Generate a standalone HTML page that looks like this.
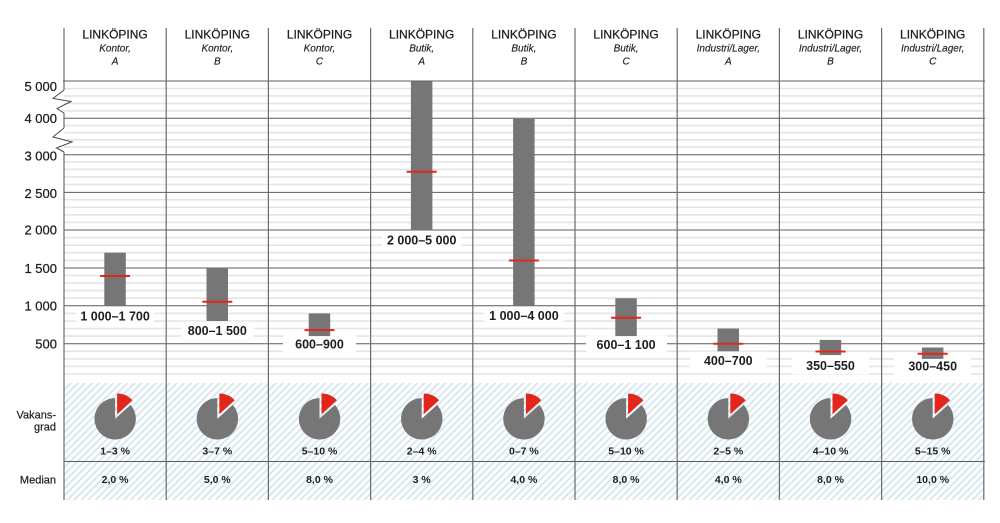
<!DOCTYPE html>
<html><head><meta charset="utf-8"><style>
html,body{margin:0;padding:0;background:#fff;}
svg{display:block;}
text{font-family:"Liberation Sans",Arial,sans-serif;fill:#1e1e1e;}
.h1{font-size:12px;stroke:#1e1e1e;stroke-width:0.25;}
.h2{font-size:10px;font-style:italic;stroke:#1e1e1e;stroke-width:0.15;}
.ya{font-size:13px;stroke:#1e1e1e;stroke-width:0.25;}
.bl{font-size:12.5px;font-weight:bold;}
.pl{font-size:10.5px;font-weight:bold;}
.rl{font-size:11px;stroke:#1e1e1e;stroke-width:0.2;}
</style></head><body>
<svg width="1000" height="523" viewBox="0 0 1000 523" xmlns="http://www.w3.org/2000/svg">
<defs>
<pattern id="h" width="5" height="5" patternUnits="userSpaceOnUse" patternTransform="rotate(45)">
<rect width="5" height="5" fill="#fff"/>
<line x1="1" y1="0" x2="1" y2="5" stroke="#d4e6ef" stroke-width="1.8"/>
</pattern>
</defs>
<rect width="1000" height="523" fill="#fff"/>
<rect x="64" y="383" width="920" height="117" fill="url(#h)"/>

<g stroke="#e4e4e4" stroke-width="1.6">
<line x1="64" x2="984" y1="88.5" y2="88.5"/><line x1="64" x2="984" y1="95.9" y2="95.9"/><line x1="64" x2="984" y1="103.4" y2="103.4"/><line x1="64" x2="984" y1="110.8" y2="110.8"/>
<line x1="64" x2="984" y1="125.5" y2="125.5"/><line x1="64" x2="984" y1="132.7" y2="132.7"/><line x1="64" x2="984" y1="139.8" y2="139.8"/><line x1="64" x2="984" y1="147" y2="147"/>
<line x1="64" x2="984" y1="161.8" y2="161.8"/><line x1="64" x2="984" y1="169.4" y2="169.4"/><line x1="64" x2="984" y1="176.9" y2="176.9"/><line x1="64" x2="984" y1="184.5" y2="184.5"/>
<line x1="64" x2="984" y1="199.7" y2="199.7"/><line x1="64" x2="984" y1="207.3" y2="207.3"/><line x1="64" x2="984" y1="214.8" y2="214.8"/><line x1="64" x2="984" y1="222.4" y2="222.4"/>
<line x1="64" x2="984" y1="237.6" y2="237.6"/><line x1="64" x2="984" y1="245.2" y2="245.2"/><line x1="64" x2="984" y1="252.7" y2="252.7"/><line x1="64" x2="984" y1="260.3" y2="260.3"/>
<line x1="64" x2="984" y1="275.5" y2="275.5"/><line x1="64" x2="984" y1="283.1" y2="283.1"/><line x1="64" x2="984" y1="290.6" y2="290.6"/><line x1="64" x2="984" y1="298.2" y2="298.2"/>
<line x1="64" x2="984" y1="313.4" y2="313.4"/><line x1="64" x2="984" y1="321" y2="321"/><line x1="64" x2="984" y1="328.5" y2="328.5"/><line x1="64" x2="984" y1="336.1" y2="336.1"/>
<line x1="64" x2="984" y1="351.3" y2="351.3"/><line x1="64" x2="984" y1="358.9" y2="358.9"/><line x1="64" x2="984" y1="366.4" y2="366.4"/><line x1="64" x2="984" y1="374" y2="374"/>
</g>
<g stroke="#5c5c5c" stroke-width="1">
<line x1="63" x2="985" y1="81" y2="81"/>
<line x1="64" x2="985" y1="118.3" y2="118.3"/>
<line x1="64" x2="985" y1="154.7" y2="154.7"/>
<line x1="64" x2="985" y1="192.4" y2="192.4"/>
<line x1="64" x2="985" y1="230" y2="230"/>
<line x1="64" x2="985" y1="268" y2="268"/>
<line x1="64" x2="985" y1="305.8" y2="305.8"/>
<line x1="64" x2="985" y1="343.7" y2="343.7"/>
<line x1="64" x2="985" y1="461.5" y2="461.5"/>
</g>
<g stroke="#6a6a6a" stroke-width="1.2">
<line x1="166.2" x2="166.2" y1="28" y2="500"/>
<line x1="268.4" x2="268.4" y1="28" y2="500"/>
<line x1="370.6" x2="370.6" y1="28" y2="500"/>
<line x1="472.8" x2="472.8" y1="28" y2="500"/>
<line x1="575" x2="575" y1="28" y2="500"/>
<line x1="677.2" x2="677.2" y1="28" y2="500"/>
<line x1="779.4" x2="779.4" y1="28" y2="500"/>
<line x1="881.6" x2="881.6" y1="28" y2="500"/>
<line x1="983.8" x2="983.8" y1="28" y2="500"/>
<line x1="64" x2="64" y1="28" y2="90"/>
<line x1="64" x2="64" y1="113" y2="128"/>
<line x1="64" x2="64" y1="152" y2="500"/>
</g>
<g fill="none" stroke="#4a4a4a" stroke-width="1">
<path d="M64,90 L53,98.5 L71,101.5 L57,108.5 L64,113"/>
<path d="M64,128 L53,137 L72,142 L56.5,148 L64,152"/>
</g>

<g text-anchor="middle">
<text class="h1" x="115.1" y="38.5">LINKÖPING</text><text class="h2" x="115.1" y="51.3">Kontor,</text><text class="h2" x="115.1" y="64.6">A</text>
<text class="h1" x="217.3" y="38.5">LINKÖPING</text><text class="h2" x="217.3" y="51.3">Kontor,</text><text class="h2" x="217.3" y="64.6">B</text>
<text class="h1" x="319.5" y="38.5">LINKÖPING</text><text class="h2" x="319.5" y="51.3">Kontor,</text><text class="h2" x="319.5" y="64.6">C</text>
<text class="h1" x="421.7" y="38.5">LINKÖPING</text><text class="h2" x="421.7" y="51.3">Butik,</text><text class="h2" x="421.7" y="64.6">A</text>
<text class="h1" x="523.9" y="38.5">LINKÖPING</text><text class="h2" x="523.9" y="51.3">Butik,</text><text class="h2" x="523.9" y="64.6">B</text>
<text class="h1" x="626.1" y="38.5">LINKÖPING</text><text class="h2" x="626.1" y="51.3">Butik,</text><text class="h2" x="626.1" y="64.6">C</text>
<text class="h1" x="728.3" y="38.5">LINKÖPING</text><text class="h2" x="728.3" y="51.3">Industri/Lager,</text><text class="h2" x="728.3" y="64.6">A</text>
<text class="h1" x="830.5" y="38.5">LINKÖPING</text><text class="h2" x="830.5" y="51.3">Industri/Lager,</text><text class="h2" x="830.5" y="64.6">B</text>
<text class="h1" x="932.7" y="38.5">LINKÖPING</text><text class="h2" x="932.7" y="51.3">Industri/Lager,</text><text class="h2" x="932.7" y="64.6">C</text>
</g>

<g text-anchor="end">
<text class="ya" x="57" y="91">5 000</text>
<text class="ya" x="57" y="123">4 000</text>
<text class="ya" x="57" y="160.5">3 000</text>
<text class="ya" x="57" y="198">2 500</text>
<text class="ya" x="57" y="234.5">2 000</text>
<text class="ya" x="57" y="273">1 500</text>
<text class="ya" x="57" y="310.5">1 000</text>
<text class="ya" x="57" y="348.5">500</text>
<text class="rl" x="56" y="418.3">Vakans-</text>
<text class="rl" x="56" y="430.7">grad</text>
<text class="rl" x="56" y="483.3">Median</text>
</g>

<g fill="#fff">
<rect x="76" y="307" width="78" height="18"/>
<rect x="181" y="321.5" width="73" height="18"/>
<rect x="283" y="335" width="73" height="18"/>
<rect x="382" y="231" width="79" height="18"/>
<rect x="484" y="306.5" width="80" height="18"/>
<rect x="586" y="335.3" width="81" height="18"/>
<rect x="690" y="351.7" width="77" height="18"/>
<rect x="792" y="356.3" width="77" height="18"/>
<rect x="894" y="357" width="77" height="18"/>
</g>

<g fill="#767676">
<rect x="104.3" y="252.7" width="21.5" height="53.1"/>
<rect x="206.5" y="268" width="21.5" height="53"/>
<rect x="308.7" y="313.4" width="21.5" height="22.7"/>
<rect x="410.9" y="81.5" width="21.5" height="148.5"/>
<rect x="513.1" y="118.8" width="21.5" height="187"/>
<rect x="615.3" y="298.2" width="21.5" height="37.9"/>
<rect x="717.5" y="328.5" width="21.5" height="22.8"/>
<rect x="819.7" y="339.9" width="21.5" height="15.2"/>
<rect x="921.9" y="347.5" width="21.5" height="11.4"/>
</g>
<g stroke="#e2261c" stroke-width="2">
<line x1="100.1" x2="130.1" y1="276" y2="276"/>
<line x1="202.3" x2="232.3" y1="301.8" y2="301.8"/>
<line x1="304.5" x2="334.5" y1="330.1" y2="330.1"/>
<line x1="406.7" x2="436.7" y1="171.7" y2="171.7"/>
<line x1="508.9" x2="538.9" y1="260.5" y2="260.5"/>
<line x1="611.1" x2="641.1" y1="317.7" y2="317.7"/>
<line x1="713.3" x2="743.3" y1="343.7" y2="343.7"/>
<line x1="815.5" x2="845.5" y1="351.5" y2="351.5"/>
<line x1="917.7" x2="947.7" y1="353.7" y2="353.7"/>
</g>
<g text-anchor="middle">
<text class="bl" x="115.1" y="320.5">1 000–1 700</text>
<text class="bl" x="217.3" y="335">800–1 500</text>
<text class="bl" x="319.5" y="348.5">600–900</text>
<text class="bl" x="421.7" y="244.5">2 000–5 000</text>
<text class="bl" x="523.9" y="320">1 000–4 000</text>
<text class="bl" x="626.1" y="348.8">600–1 100</text>
<text class="bl" x="728.3" y="365.2">400–700</text>
<text class="bl" x="830.5" y="369.8">350–550</text>
<text class="bl" x="932.7" y="370.5">300–450</text>
</g>

<g>
<g transform="translate(115.1,418.8)"><path d="M0,0 L15.4,-13.9 A20.7,20.7 0 1 1 0,-20.7 Z" fill="#767676"/><path d="M2,-4.6 L2,-25.3 A20.7,20.7 0 0 1 17.4,-18.5 Z" fill="#e2261c"/></g>
<g transform="translate(217.3,418.8)"><path d="M0,0 L15.4,-13.9 A20.7,20.7 0 1 1 0,-20.7 Z" fill="#767676"/><path d="M2,-4.6 L2,-25.3 A20.7,20.7 0 0 1 17.4,-18.5 Z" fill="#e2261c"/></g>
<g transform="translate(319.5,418.8)"><path d="M0,0 L15.4,-13.9 A20.7,20.7 0 1 1 0,-20.7 Z" fill="#767676"/><path d="M2,-4.6 L2,-25.3 A20.7,20.7 0 0 1 17.4,-18.5 Z" fill="#e2261c"/></g>
<g transform="translate(421.7,418.8)"><path d="M0,0 L15.4,-13.9 A20.7,20.7 0 1 1 0,-20.7 Z" fill="#767676"/><path d="M2,-4.6 L2,-25.3 A20.7,20.7 0 0 1 17.4,-18.5 Z" fill="#e2261c"/></g>
<g transform="translate(523.9,418.8)"><path d="M0,0 L15.4,-13.9 A20.7,20.7 0 1 1 0,-20.7 Z" fill="#767676"/><path d="M2,-4.6 L2,-25.3 A20.7,20.7 0 0 1 17.4,-18.5 Z" fill="#e2261c"/></g>
<g transform="translate(626.1,418.8)"><path d="M0,0 L15.4,-13.9 A20.7,20.7 0 1 1 0,-20.7 Z" fill="#767676"/><path d="M2,-4.6 L2,-25.3 A20.7,20.7 0 0 1 17.4,-18.5 Z" fill="#e2261c"/></g>
<g transform="translate(728.3,418.8)"><path d="M0,0 L15.4,-13.9 A20.7,20.7 0 1 1 0,-20.7 Z" fill="#767676"/><path d="M2,-4.6 L2,-25.3 A20.7,20.7 0 0 1 17.4,-18.5 Z" fill="#e2261c"/></g>
<g transform="translate(830.5,418.8)"><path d="M0,0 L15.4,-13.9 A20.7,20.7 0 1 1 0,-20.7 Z" fill="#767676"/><path d="M2,-4.6 L2,-25.3 A20.7,20.7 0 0 1 17.4,-18.5 Z" fill="#e2261c"/></g>
<g transform="translate(932.7,418.8)"><path d="M0,0 L15.4,-13.9 A20.7,20.7 0 1 1 0,-20.7 Z" fill="#767676"/><path d="M2,-4.6 L2,-25.3 A20.7,20.7 0 0 1 17.4,-18.5 Z" fill="#e2261c"/></g>
</g>
<g text-anchor="middle">
<text class="pl" x="115.1" y="454.5">1–3 %</text>
<text class="pl" x="217.3" y="454.5">3–7 %</text>
<text class="pl" x="319.5" y="454.5">5–10 %</text>
<text class="pl" x="421.7" y="454.5">2–4 %</text>
<text class="pl" x="523.9" y="454.5">0–7 %</text>
<text class="pl" x="626.1" y="454.5">5–10 %</text>
<text class="pl" x="728.3" y="454.5">2–5 %</text>
<text class="pl" x="830.5" y="454.5">4–10 %</text>
<text class="pl" x="932.7" y="454.5">5–15 %</text>
<text class="pl" x="115.1" y="483.2">2,0 %</text>
<text class="pl" x="217.3" y="483.2">5,0 %</text>
<text class="pl" x="319.5" y="483.2">8,0 %</text>
<text class="pl" x="421.7" y="483.2">3 %</text>
<text class="pl" x="523.9" y="483.2">4,0 %</text>
<text class="pl" x="626.1" y="483.2">8,0 %</text>
<text class="pl" x="728.3" y="483.2">4,0 %</text>
<text class="pl" x="830.5" y="483.2">8,0 %</text>
<text class="pl" x="932.7" y="483.2">10,0 %</text>
</g>
</svg>
</body></html>
